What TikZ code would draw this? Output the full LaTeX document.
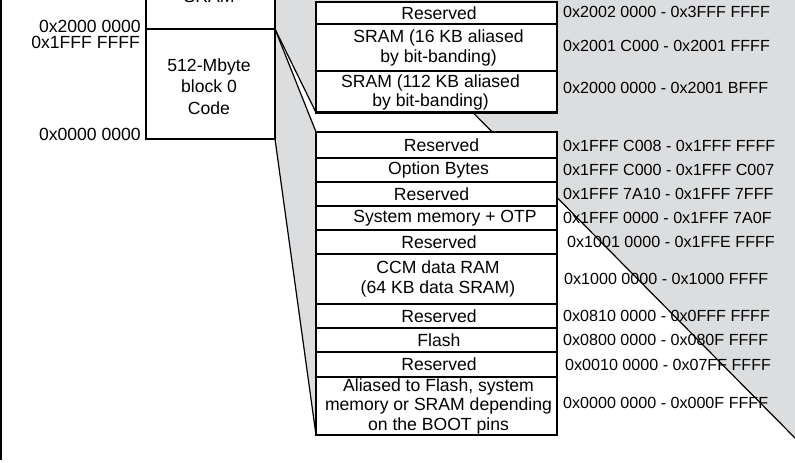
\documentclass[tikz,border=0pt]{standalone}
\usepackage{fontspec}
\setmainfont{Liberation Sans}
\usetikzlibrary{backgrounds,calc}
\definecolor{memgray}{RGB}{220,221,223}
\tikzset{
  mem/.style={draw=black, line width=2.5pt, fill=white, inner sep=0pt, outer sep=0pt, minimum width=241pt},
  lblock/.style={draw=black, line width=2.5pt, fill=white, inner sep=0pt, outer sep=0pt, minimum width=129pt},
  boxtxt/.style={font=\fontsize{17.6}{19.5}\selectfont, align=center, inner sep=0pt},
  addr/.style={font=\fontsize{16.1}{19}\selectfont, anchor=west, inner sep=0pt},
  side/.style={font=\fontsize{17.6}{19}\selectfont, anchor=east, inner sep=0pt},
  thinline/.style={line width=1.2pt, line cap=round},
}
\begin{document}
\begin{tikzpicture}[x=1pt,y=-1pt]
\useasboundingbox (0,0) rectangle (795,463);
\clip (0,0) rectangle (795,463);

% left block
\node[lblock, minimum height=70pt] (sram) at (210.5,-6) {};
\node[lblock, minimum height=110pt] (code) at (210.5,84) {};
\node[boxtxt] (sramtxt) at (209,-3.5) {SRAM};
\node[boxtxt, font=\fontsize{17.6}{21.5}\selectfont] (codetxt) at (209,86.5) {512-Mbyte\\block 0\\Code};

\node[side] (s1) at (141,26) {0x2000 0000};
\node[side] (s2) at (140,42) {0x1FFF FFFF};
\node[side] (s3) at (141,134) {0x0000 0000};

% upper block
\node[mem, minimum height=22pt] (u1) at (436.5,13) {};
\node[mem, minimum height=47pt] (u2) at (436.5,47.5) {};
\node[mem, minimum height=41.5pt] (u3) at (436.5,91.75) {};
\node[boxtxt] (tu1) at ([xshift=2.5pt]u1.center) {Reserved};
\node[boxtxt] (tu2) at ([xshift=2pt,yshift=-0.5pt]u2.center) {SRAM (16 KB aliased\\by bit-banding)};
\node[boxtxt] (tu3) at ([xshift=-6pt,yshift=-0.5pt]u3.center) {SRAM (112 KB aliased\\by bit-banding)};

% lower block
\node[mem, minimum height=26pt] (l1) at (436.5,145) {};
\node[mem, minimum height=24pt] (l2) at (436.5,170) {};
\node[mem, minimum height=24pt] (l3) at (436.5,194) {};
\node[mem, minimum height=24pt] (l4) at (436.5,218) {};
\node[mem, minimum height=24pt] (l5) at (436.5,242) {};
\node[mem, minimum height=50pt] (l6) at (436.5,279) {};
\node[mem, minimum height=24pt] (l7) at (436.5,316) {};
\node[mem, minimum height=24pt] (l8) at (436.5,340) {};
\node[mem, minimum height=25pt] (l9) at (436.5,364.5) {};
\node[mem, minimum height=58pt] (l10) at (436.5,406) {};

\node[boxtxt] (tl1) at ([xshift=5pt]l1.center) {Reserved};
\node[boxtxt] (tl2) at ([xshift=2pt]l2.center) {Option Bytes};
\node[boxtxt] (tl3) at ([xshift=-5pt]l3.center) {Reserved};
\node[boxtxt] (tl4) at ([xshift=8.5pt]l4.center) {System memory + OTP};
\node[boxtxt] (tl5) at ([xshift=2.5pt]l5.center) {Reserved};
\node[boxtxt] (tl6) at ([xshift=1.5pt]l6.center) {CCM data RAM\\(64 KB data SRAM)};
\node[boxtxt] (tl7) at ([xshift=2.5pt]l7.center) {Reserved};
\node[boxtxt] (tl8) at ([xshift=2.5pt]l8.center) {Flash};
\node[boxtxt] (tl9) at ([xshift=2.5pt]l9.center) {Reserved};
\node[boxtxt] (tl10) at ([xshift=2pt]l10.center) {Aliased to Flash, system\\memory or SRAM depending\\on the BOOT pins};

% addresses
\node[addr] (a1) at (563,12) {0x2002 0000 - 0x3FFF FFFF};
\node[addr] (a2) at (563,46) {0x2001 C000 - 0x2001 FFFF};
\node[addr] (a3) at (563,88) {0x2000 0000 - 0x2001 BFFF};
\node[addr] (a4) at (563,146) {0x1FFF C008 - 0x1FFF FFFF};
\node[addr] (a5) at (563,170) {0x1FFF C000 - 0x1FFF C007};
\node[addr] (a6) at (563,194) {0x1FFF 7A10 - 0x1FFF 7FFF};
\node[addr] (a7) at (563,218) {0x1FFF 0000 - 0x1FFF 7A0F};
\node[addr] (a8) at (567,242) {0x1001 0000 - 0x1FFE FFFF};
\node[addr] (a9) at (564,279) {0x1000 0000 - 0x1000 FFFF};
\node[addr] (a10) at (563,316) {0x0810 0000 - 0x0FFF FFFF};
\node[addr] (a11) at (563,340) {0x0800 0000 - 0x080F FFFF};
\node[addr] (a12) at (565,365) {0x0010 0000 - 0x07FF FFFF};
\node[addr] (a13) at (563,403) {0x0000 0000 - 0x000F FFFF};

\coordinate (dstart) at ($(u3.south west)!0.651!(u3.south east)$);
\coordinate (dend) at (816,459.2);
\coordinate (ltop) at (1.2,0);
\coordinate (lbot) at (1.2,460);

\begin{scope}[on background layer]
  \fill[memgray] (275,-5) -- (830,-5) -- (830,459.2) -- (dend) -- (dstart)
     -- (u3.south west) -- (code.north east) -- cycle;
  \fill[memgray] (code.north east) -- (l1.north west) -- (l10.south west)
     -- (code.south east) -- cycle;
  \draw[thinline] (code.north east) -- (u3.south west);
  \draw[thinline] (code.north east) -- (l1.north west);
  \draw[thinline] (code.south east) -- (l10.south west);
  \draw[thinline] (dstart) -- (dend);
\end{scope}
\draw[line width=2.4pt] (ltop) -- (lbot);
\end{tikzpicture}
\end{document}
